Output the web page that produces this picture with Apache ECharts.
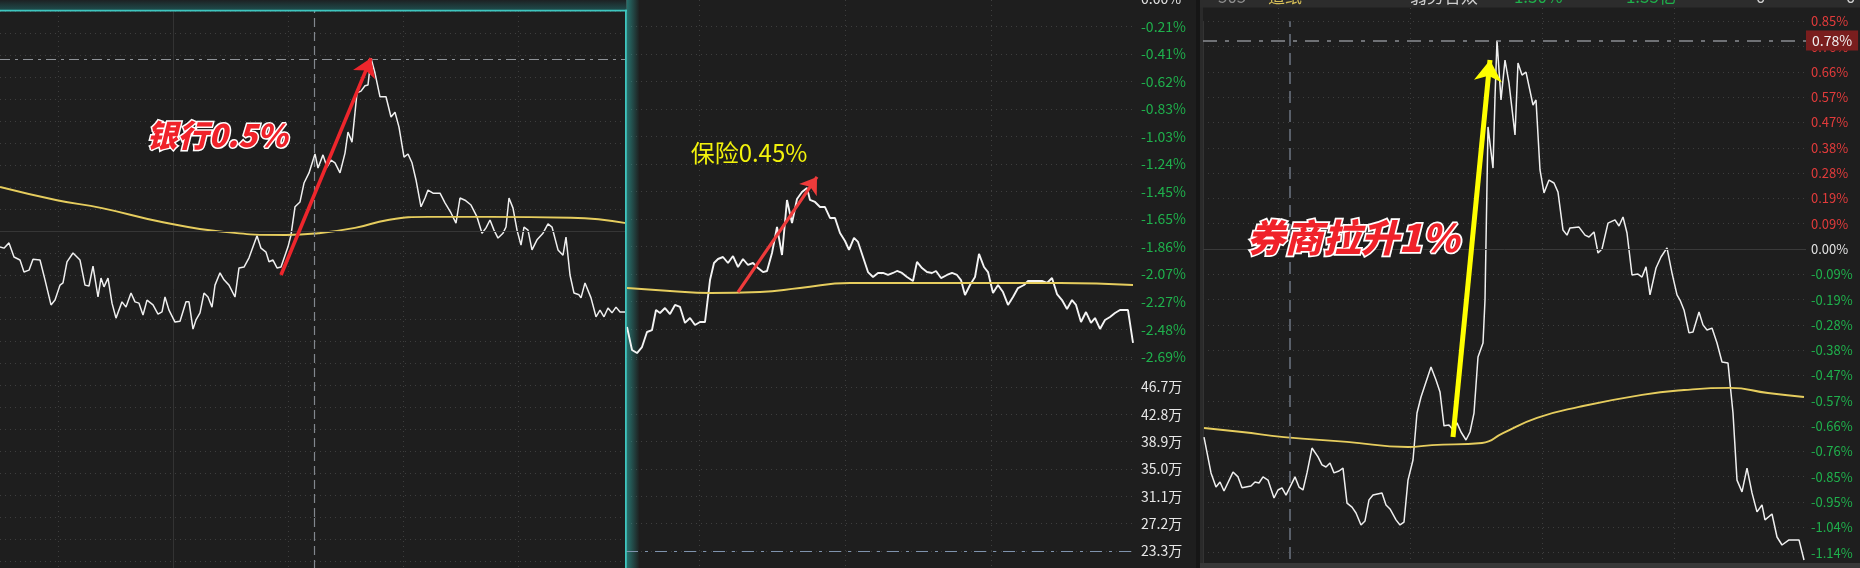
<!DOCTYPE html>
<html><head><meta charset="utf-8">
<script src="https://cdn.jsdelivr.net/npm/echarts/dist/echarts.min.js"></script>
<style>html,body{margin:0;padding:0;background:#1e1e1e;overflow:hidden}#c{width:1860px;height:568px}</style>
</head><body><div id="c"></div>
<script>
// ---------- DATA (time in minutes from panel start, value in %) ----------
// Panel 1: 银行
const p1Price = [[0,-0.036],[1,-0.039],[2.25,-0.027],[3.5,-0.059],[5,-0.066],[6,-0.093],[7.25,-0.089],[8.25,-0.064],[10,-0.066],[11.25,-0.111],[12.75,-0.168],[13.75,-0.157],[15,-0.123],[15.75,-0.118],[16.75,-0.070],[18.25,-0.050],[20,-0.066],[21.25,-0.123],[22.25,-0.125],[23.25,-0.080],[24.5,-0.150],[25.25,-0.107],[26,-0.127],[27,-0.107],[28,-0.164],[29,-0.198],[30.5,-0.161],[31.5,-0.173],[32.75,-0.141],[33.75,-0.161],[34.75,-0.164],[35.75,-0.191],[36.75,-0.157],[38.25,-0.168],[39.5,-0.189],[40.5,-0.184],[41.25,-0.150],[42.25,-0.180],[43.75,-0.207],[45,-0.205],[46.5,-0.161],[47.25,-0.161],[48.25,-0.223],[49,-0.202],[50,-0.186],[51,-0.141],[52,-0.150],[53,-0.173],[53.75,-0.123],[55,-0.095],[56,-0.111],[57.25,-0.123],[58.75,-0.150],[59.75,-0.084],[61,-0.082],[62.25,-0.061],[64.25,-0.011],[65.25,-0.039],[66.5,-0.048],[67.25,-0.070],[68.25,-0.066],[69.25,-0.084],[70.25,-0.082],[72,-0.036],[72.75,-0.009],[73.75,0.055],[75,0.066],[76,0.109],[77.25,0.132],[78.75,0.175],[79.5,0.143],[80.75,0.173],[81.75,0.145],[82.75,0.161],[83.75,0.155],[85,0.132],[86.25,0.177],[87,0.225],[88,0.202],[89.25,0.314],[90.25,0.318],[91.25,0.330],[92,0.332],[92.75,0.393],[93.75,0.359],[95,0.305],[96.5,0.305],[97.75,0.259],[98.75,0.270],[99.75,0.236],[101,0.168],[102,0.175],[103,0.155],[104,0.116],[105.25,0.055],[106.25,0.075],[107,0.093],[108.25,0.086],[110,0.086],[111.25,0.064],[112.75,0.041],[114,0.018],[115,0.075],[116.25,0.070],[117.75,0.059],[119.25,0.032],[120.5,-0.005],[121.5,0.007],[122.5,0.025],[123.5,0.002],[124.5,-0.016],[125.75,-0.005],[126.5,0.009],[127.25,0.075],[128.25,0.052],[129.25,0.002],[130.25,-0.032],[131,0.009],[132,0.002],[133,-0.043],[134.25,-0.020],[135.75,-0.005],[137,0.016],[138,0.009],[139.5,-0.043],[140.75,-0.055],[141.5,-0.014],[142.5,-0.100],[143.5,-0.141],[144.75,-0.145],[145.25,-0.152],[146.25,-0.118],[147.75,-0.152],[149,-0.195],[150,-0.180],[151,-0.195],[152,-0.175],[153,-0.186],[154,-0.173],[155,-0.184],[156.5,-0.184]];
const p1Avg = [[0,0.100],[14.25,0.070],[25.5,0.052],[40.75,0.020],[56,-0.002],[71.5,-0.009],[79.5,-0.005],[88.75,0.007],[97,0.025],[107,0.032],[122.5,0.032],[142.75,0.030],[156.5,0.018]];
const p1Arrow = [[70.25,-0.10],[92.75,0.393]];
const p1Cursor = 78.5;

// Panel 2: 保险
const p2Price = [[0.2,-2.463],[1.2,-2.636],[2.2,-2.659],[3.2,-2.614],[4.2,-2.501],[5.2,-2.486],[6,-2.336],[6.8,-2.358],[7.8,-2.321],[8.8,-2.366],[9.8,-2.298],[10.8,-2.313],[11.8,-2.433],[12.8,-2.396],[13.8,-2.448],[14.8,-2.426],[15.8,-2.426],[16.8,-2.111],[17.6,-1.983],[18.4,-1.953],[19.4,-1.938],[20.4,-1.983],[21.4,-1.931],[22.4,-2.013],[23.4,-1.953],[24.4,-1.998],[25.4,-1.983],[26.4,-2.021],[27.4,-2.051],[28.2,-2.043],[29.2,-1.908],[30.2,-1.713],[31.2,-1.923],[32.2,-1.510],[33.2,-1.683],[34.2,-1.503],[35.2,-1.450],[36.2,-1.420],[36.8,-1.510],[37.8,-1.525],[38.8,-1.563],[39.8,-1.563],[40.8,-1.645],[41.8,-1.645],[42.8,-1.758],[43.8,-1.818],[44.6,-1.885],[45.6,-1.795],[46.4,-1.825],[47.4,-1.938],[48.4,-2.051],[49.4,-2.088],[50.4,-2.058],[51.4,-2.058],[52.4,-2.073],[53.4,-2.058],[54.2,-2.043],[55.2,-2.058],[56.2,-2.088],[57.4,-2.118],[58.2,-1.975],[59.2,-2.021],[60.2,-2.051],[61.2,-2.058],[62,-2.043],[63,-2.096],[64.2,-2.073],[65.2,-2.058],[66.2,-2.073],[67,-2.111],[67.8,-2.223],[68.8,-2.148],[69.8,-2.088],[70.6,-1.915],[71.6,-2.013],[72.4,-2.051],[73.4,-2.208],[74.4,-2.148],[75.4,-2.201],[76.4,-2.298],[77.4,-2.238],[78.4,-2.171],[79.6,-2.148],[80.4,-2.118],[81.8,-2.118],[83.2,-2.118],[84.2,-2.133],[85.2,-2.096],[86.2,-2.216],[87.2,-2.261],[88.2,-2.328],[89.2,-2.261],[90,-2.298],[91,-2.426],[92,-2.351],[93,-2.433],[93.8,-2.396],[94.8,-2.478],[95.8,-2.411],[96.8,-2.388],[97.8,-2.358],[98.8,-2.336],[100.4,-2.336],[101.4,-2.583]];
const p2Avg = [[0.2,-2.171],[8.8,-2.193],[16.8,-2.208],[26.8,-2.201],[34.8,-2.171],[44.8,-2.133],[64.8,-2.133],[86.8,-2.133],[101.4,-2.148]];
const p2Arrow = [[22.4,-2.201],[38.2,-1.337]];
const p2VolCursor = 23.3;
const p2PctTicks = ['-2.69%','-2.48%','-2.27%','-2.07%','-1.86%','-1.65%','-1.45%','-1.24%','-1.03%','-0.83%','-0.62%','-0.41%','-0.21%','0.00%'];
const p2PctStep = 0.2067;
const p2VolTicks = ['19.4万','23.3万','27.2万','31.1万','35.0万','38.9万','42.8万','46.7万','50.6万'];
const p2VolStep = 3.9;

// Panel 3: 券商
const p3Price = [[0.25,-0.704],[2,-0.838],[3.25,-0.891],[4.25,-0.872],[5.25,-0.906],[7.5,-0.835],[8.75,-0.853],[9.75,-0.894],[12,-0.887],[13,-0.872],[14,-0.876],[15,-0.853],[16.25,-0.865],[17.75,-0.932],[18.75,-0.902],[19.75,-0.894],[20.75,-0.921],[23,-0.853],[24,-0.891],[25,-0.902],[26,-0.838],[27.25,-0.745],[28.75,-0.778],[29.75,-0.808],[30.75,-0.816],[31.75,-0.801],[32.75,-0.838],[34,-0.831],[35,-0.820],[36,-0.951],[37.25,-0.966],[38.25,-0.988],[39.5,-1.033],[40.5,-1.018],[41.5,-0.939],[42.5,-0.921],[44.75,-0.913],[45.75,-0.958],[46.75,-0.973],[48.25,-1.014],[49.25,-1.033],[50.25,-1.022],[51.25,-0.865],[52.5,-0.790],[53.5,-0.614],[54.5,-0.554],[57,-0.442],[58.25,-0.490],[59.25,-0.535],[60.25,-0.662],[61.5,-0.659],[62.5,-0.677],[63.5,-0.651],[64.5,-0.685],[65.75,-0.715],[66.75,-0.685],[67.75,-0.614],[68.75,-0.404],[70,-0.352],[70.5,-0.191],[71.25,0.457],[72.5,0.303],[73,0.569],[73.5,0.780],[74.5,0.558],[75.5,0.707],[76.5,0.621],[78,0.427],[78.75,0.696],[79.75,0.651],[80.75,0.662],[82.5,0.539],[83.25,0.558],[84.25,0.296],[85.25,0.210],[86.5,0.258],[87.75,0.247],[88.75,0.213],[90,0.071],[91,0.052],[91.75,0.079],[94,0.082],[95.5,0.052],[96.5,0.045],[97.75,0.064],[98.75,-0.015],[99.75,0.000],[101.25,0.097],[103,0.109],[104,0.086],[105,0.120],[106,0.060],[107.25,-0.097],[108.75,-0.094],[109.75,-0.105],[110.75,-0.067],[111.75,-0.172],[113.25,-0.071],[114.5,-0.030],[116,0.004],[117.25,-0.090],[118.5,-0.172],[119.25,-0.191],[120.25,-0.228],[121.5,-0.314],[122.5,-0.311],[124,-0.236],[125,-0.284],[126,-0.303],[127.25,-0.296],[128.5,-0.352],[129.75,-0.423],[131.25,-0.427],[132.5,-0.614],[133.5,-0.865],[134.75,-0.909],[136,-0.820],[137.25,-0.913],[138.5,-0.984],[139.75,-0.958],[140.5,-1.014],[142.25,-0.992],[143.5,-1.078],[144.75,-1.108],[146.5,-1.089],[149,-1.089],[150.25,-1.164]];
const p3Avg = [[0.25,-0.670],[9.75,-0.685],[20.25,-0.704],[36,-0.722],[51.25,-0.741],[57.25,-0.734],[69.75,-0.726],[75,-0.689],[83.5,-0.632],[94,-0.591],[109.75,-0.546],[120.25,-0.528],[131.75,-0.520],[141.25,-0.539],[150.25,-0.554]];
const p3Arrow = [[62.5,-0.704],[71.75,0.707]];
const p3Cursor = 21.75;
const p3PctTicks = ['-1.23%','-1.14%','-1.04%','-0.95%','-0.85%','-0.76%','-0.66%','-0.57%','-0.47%','-0.38%','-0.28%','-0.19%','-0.09%','0.00%','0.09%','0.19%','0.28%','0.38%','0.47%','0.57%','0.66%','0.76%','0.85%'];
const p3PctStep = 0.0947;

// ---------- helpers ----------
const FONT = '"Noto Sans CJK SC", "Noto Sans", sans-serif';
const RED = '#e23b3b', GREEN = '#1fb04c', WHITE = '#e2e2e2';
const AVG = '#e6cd5e';
const dotted = {show:true, lineStyle:{color:'#3e3e3e', width:1, type:[1,4]}};
function tickFmt(ticks, min, step){ return v => { const i = Math.round((v - min)/step); return ticks[i] !== undefined ? ticks[i] : ''; }; }
function pctColor(v){ v = parseFloat(v); return v > 1e-6 ? RED : (v < -1e-6 ? GREEN : WHITE); }
const p2Min = -(p2PctTicks.length - 1) * p2PctStep;
const p2VolMin = parseFloat(p2VolTicks[0]);
const p2VolMax = parseFloat(p2VolTicks[p2VolTicks.length-1]);
const p3Zero = p3PctTicks.indexOf('0.00%');
const p3Min = -p3Zero * p3PctStep;
const p3Max = (p3PctTicks.length - 1 - p3Zero) * p3PctStep;
const bareAxis = (extra) => Object.assign({type:'value', axisLine:{show:false}, axisTick:{show:false}, axisLabel:{show:false}, splitLine:{show:false}}, extra);
const G = (o) => Object.assign({outerBoundsMode:'none', containLabel:false}, o);

const arrowLine = (pts, color, width, size) => ({silent:true, animation:false, symbol:['none','arrow'], symbolSize:size, label:{show:false},
  lineStyle:{color:color, width:width, type:'solid', opacity:1}, emphasis:{disabled:true},
  data:[[{coord:pts[0], symbol:'none'},{coord:pts[1], symbol:'arrow', symbolSize:size}]]});

const chart = echarts.init(document.getElementById('c'), null, {renderer:'canvas', width:1860, height:568});
const option = {
  backgroundColor:'#1e1e1e',
  animation:false,
  grid:[
    G({left:0, top:11, width:626, height:506}),          // 0 p1 price
    G({left:0, top:517, width:626, height:66}),          // 1 p1 volume
    G({left:58, top:11, width:460, height:557}),         // 2 p1 frame verticals
    G({left:173, top:11, width:230, height:557}),        // 3 p1 hour line
    G({left:626, top:-1.2, width:510, height:358}),      // 4 p2 price
    G({left:626, top:359.7, width:510, height:218.4}),   // 5 p2 volume
    G({left:699, top:0, width:292, height:568}),         // 6 p2 frame
    G({left:1203, top:21.3, width:603, height:556.6}),   // 7 p3 price
    G({left:1278, top:8, width:396, height:555})         // 8 p3 frame
  ],
  xAxis:[
    bareAxis({gridIndex:0, min:0, max:156.5, axisLine:{show:true, lineStyle:{color:'#3a3a3a'}}}),
    bareAxis({gridIndex:1, min:0, max:156.5}),
    bareAxis({gridIndex:2, min:0, max:120, interval:30, splitLine:dotted}),
    bareAxis({gridIndex:3, min:0, max:1}),
    bareAxis({gridIndex:4, min:0, max:102, axisLine:{show:true, lineStyle:{color:'#3a3a3a'}}}),
    bareAxis({gridIndex:5, min:0, max:102}),
    bareAxis({gridIndex:6, min:0, max:60, interval:30, splitLine:dotted}),
    bareAxis({gridIndex:7, min:0, max:150.75}),
    bareAxis({gridIndex:8, min:0, max:90, interval:30, splitLine:dotted})
  ],
  yAxis:[
    bareAxis({gridIndex:0, min:-0.65, max:0.5, interval:0.05, splitLine:dotted}),
    bareAxis({gridIndex:1, min:0, max:3, interval:1, splitLine:dotted}),
    bareAxis({gridIndex:2, min:0, max:1}),
    bareAxis({gridIndex:3, min:0, max:1, position:'left', axisLine:{show:true, lineStyle:{color:'#333333'}}}),
    bareAxis({gridIndex:4, position:'right', min:p2Min, max:0, interval:p2PctStep, splitLine:dotted,
      axisLine:{show:true, lineStyle:{color:'#3a3a3a'}},
      axisLabel:{show:true, margin:5, align:'left', fontSize:14, fontFamily:FONT, hideOverlap:false,
        formatter:tickFmt(p2PctTicks, p2Min, p2PctStep), color:pctColor}}),
    bareAxis({gridIndex:5, position:'right', min:p2VolMin, max:p2VolMax, interval:p2VolStep, splitLine:dotted,
      axisLine:{show:true, lineStyle:{color:'#3a3a3a'}},
      axisLabel:{show:true, margin:5, align:'left', fontSize:14, fontFamily:FONT, color:'#e6e6e6', showMaxLabel:false, showMinLabel:false,
        formatter:tickFmt(p2VolTicks, p2VolMin, p2VolStep)}}),
    bareAxis({gridIndex:6, min:0, max:1}),
    bareAxis({gridIndex:7, position:'right', min:p3Min, max:p3Max, interval:p3PctStep, splitLine:dotted,
      axisLine:{show:true, lineStyle:{color:'#333333'}},
      axisLabel:{show:true, margin:5, align:'left', fontSize:13, fontFamily:FONT, showMinLabel:false,
        formatter:tickFmt(p3PctTicks, p3Min, p3PctStep), color:pctColor}}),
    bareAxis({gridIndex:8, min:0, max:1})
  ],
  series:[
    // ---- panel 1
    {type:'line', xAxisIndex:0, yAxisIndex:0, data:p1Price, symbol:'none', z:3,
      lineStyle:{color:'#efefef', width:1.5},
      markLine:{silent:true, animation:false, symbol:'none', label:{show:false}, emphasis:{disabled:true}, data:[
        {type:'max', lineStyle:{color:'#8e9297', width:1.2, type:[10,5,3,5]}},
        {xAxis:p1Cursor, lineStyle:{color:'#82878e', width:1.2, type:[9,5]}},
        {yAxis:0, lineStyle:{color:'#363636', width:1, type:'solid'}}
      ]}},
    {type:'line', xAxisIndex:0, yAxisIndex:0, data:p1Avg, smooth:true, symbol:'none', z:3,
      lineStyle:{color:AVG, width:1.9},
      markLine:arrowLine(p1Arrow, '#ee262c', 3.6, 18)},
    {type:'line', xAxisIndex:1, yAxisIndex:1, data:[], symbol:'none',
      markLine:{silent:true, animation:false, symbol:'none', label:{show:false}, data:[
        {xAxis:p1Cursor, lineStyle:{color:'#82878e', width:1.2, type:[9,5]}}]}},
    // ---- panel 2
    {type:'line', xAxisIndex:4, yAxisIndex:4, data:p2Price, symbol:'none', z:3,
      lineStyle:{color:'#f4f4f4', width:1.9}},
    {type:'line', xAxisIndex:4, yAxisIndex:4, data:p2Avg, smooth:true, symbol:'none', z:3,
      lineStyle:{color:AVG, width:1.9},
      markLine:arrowLine(p2Arrow, '#ee3b3b', 3.2, 16)},
    {type:'line', xAxisIndex:5, yAxisIndex:5, data:[], symbol:'none',
      markLine:{silent:true, animation:false, symbol:'none', label:{show:false}, data:[
        {yAxis:p2VolCursor, lineStyle:{color:'#7f93ad', width:1.2, type:[12,7,3,7]}}]}},
    // ---- panel 3
    {type:'line', xAxisIndex:7, yAxisIndex:7, data:p3Price, symbol:'none', z:3,
      lineStyle:{color:'#efefef', width:1.5},
      markLine:{silent:true, animation:false, symbol:'none', emphasis:{disabled:true}, label:{show:false}, data:[
        {type:'max', lineStyle:{color:'#8a8d92', width:1.5, type:[14,8,4,8]},
          label:{show:true, position:'end', distance:0, formatter:p => p.value.toFixed(2)+'%',
            backgroundColor:'#7a1e1e', color:'#f0f0f0', fontSize:14, fontFamily:FONT, padding:[3,6,3,6]}},
        {xAxis:p3Cursor, lineStyle:{color:'#6e7682', width:1.5, type:[12,7]}},
        {yAxis:0, lineStyle:{color:'#3a3a3a', width:1, type:'solid'}}
      ]}},
    {type:'line', xAxisIndex:7, yAxisIndex:7, data:p3Avg, smooth:true, symbol:'none', z:3,
      lineStyle:{color:AVG, width:1.9},
      markLine:arrowLine(p3Arrow, '#ffff00', 5, 21)}
  ],
  graphic:[
    // panel 1 frame glow
    {type:'rect', z:10, shape:{x:0,y:0,width:626,height:11}, style:{fill:{type:'linear',x:0,y:0,x2:0,y2:1,colorStops:[{offset:0,color:'#1d2123'},{offset:1,color:'#1f5050'}]}}},
    {type:'rect', z:11, shape:{x:0,y:9.8,width:627,height:1.6}, style:{fill:'#3ec6bf'}},
    {type:'rect', z:1, shape:{x:626.5,y:0,width:13,height:568}, style:{fill:{type:'linear',x:0,y:0,x2:1,y2:0,colorStops:[{offset:0,color:'rgba(45,185,178,0.55)'},{offset:1,color:'rgba(45,185,178,0)'}]}}},
    {type:'rect', z:11, shape:{x:625,y:9.8,width:1.8,height:560}, style:{fill:'#3ec6bf'}},
    // separator + panel 3 header/footer
    {type:'rect', z:10, shape:{x:1196,y:0,width:4,height:568}, style:{fill:'#161616'}},
    {type:'rect', z:10, shape:{x:1200,y:0,width:3,height:568}, style:{fill:'#2a2a2a'}},
    {type:'rect', z:10, shape:{x:1200,y:0,width:660,height:7.5}, style:{fill:'#2c2c2c'}},
    {type:'rect', z:10, shape:{x:1200,y:563,width:660,height:5}, style:{fill:'#383838'}},
    {type:'text', z:12, x:1218, y:5, style:{text:'505', fill:'#8e8e8e', font:'17px '+FONT, verticalAlign:'bottom'}},
    {type:'text', z:12, x:1268, y:5, style:{text:'造纸', fill:'#d6bf58', font:'17px '+FONT, verticalAlign:'bottom'}},
    {type:'text', z:12, x:1410, y:5, style:{text:'弱势合双', fill:'#cfcfcf', font:'17px '+FONT, verticalAlign:'bottom'}},
    {type:'text', z:12, x:1508, y:5, style:{text:'-1.30%', fill:GREEN, font:'17px '+FONT, verticalAlign:'bottom'}},
    {type:'text', z:12, x:1620, y:5, style:{text:'-1.35亿', fill:GREEN, font:'17px '+FONT, verticalAlign:'bottom'}},
    {type:'text', z:12, x:1756, y:5, style:{text:'0', fill:'#cfcfcf', font:'17px '+FONT, verticalAlign:'bottom'}},
    {type:'text', z:12, x:1846, y:5, style:{text:'0', fill:'#cfcfcf', font:'17px '+FONT, verticalAlign:'bottom'}},
    // annotations
    {type:'text', z:20, x:217, y:135, style:{text:'银行0.5%', fill:'#f0222a', stroke:'#ffffff', lineWidth:3, strokeFirst:true,
      font:'italic 900 31px '+FONT, align:'center', verticalAlign:'middle'}},
    {type:'text', z:20, x:749, y:153, style:{text:'保险0.45%', fill:'#f2f20c', font:'24px '+FONT, align:'center', verticalAlign:'middle'}},
    {type:'text', z:20, x:1353, y:238, style:{text:'券商拉升1%', fill:'#f0222a', stroke:'#ffffff', lineWidth:3.5, strokeFirst:true,
      font:'italic 900 38px '+FONT, align:'center', verticalAlign:'middle'}}
  ]
};
chart.setOption(option);
</script></body></html>
